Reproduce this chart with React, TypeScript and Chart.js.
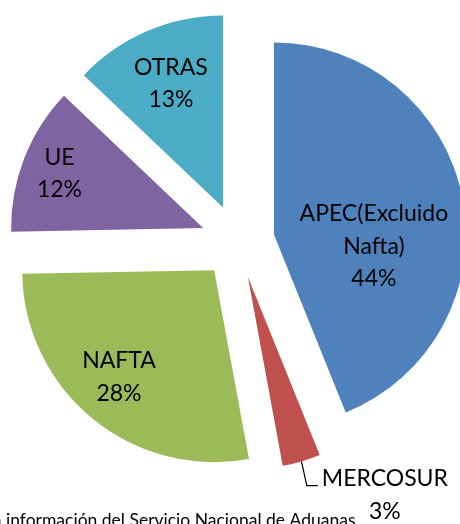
import React, { useEffect, useRef } from "react";
import { Chart, registerables } from "chart.js";

Chart.register(...registerables);

// ---- data ----
const categories = ["APEC(Excluido Nafta)", "MERCOSUR", "NAFTA", "UE", "OTRAS"];
const labelLines = [["APEC(Excluido", "Nafta)"], ["MERCOSUR"], ["NAFTA"], ["UE"], ["OTRAS"]];
const shares = [43.9, 3.2, 27.6, 12.4, 12.9];
const percentLabels = ["44%", "3%", "28%", "12%", "13%"];
const sourceNote = "Fuente: Elaboración propia con información del Servicio Nacional de Aduanas";

// ---- style ----
const colors = ["#4F81BD", "#C0504D", "#9BBB59", "#8064A2", "#4BACC6"];
const EXPLODE = 37;
const PIE_RADIUS = 192;
const LABEL_FONT = "23px Lato, 'Noto Sans', sans-serif";
const NOTE_FONT = "17.5px Lato, 'Noto Sans', sans-serif";
const CAP = 16.5;
const LINE_H = 32.5;
// label placement: fraction of radius along slice bisector, angle shift in degrees
const labelPlacement: any[] = [
  { r: 0.524, da: 17.3 },
  { outside: true, dx: 5.3, dy: 24.2, tail: 11 },
  { r: 0.742, da: 2.7 },
  { r: 0.802, da: -0.1 },
  { r: 0.705, da: 0.6 },
];

const explodePlugin = {
  id: "explode",
  afterDatasetsUpdate(chart: any) {
    const meta = chart.getDatasetMeta(0);
    meta.data.forEach((arc: any) => {
      const mid = (arc.startAngle + arc.endAngle) / 2;
      arc.x += Math.cos(mid) * EXPLODE;
      arc.y += Math.sin(mid) * EXPLODE;
    });
  },
};

const labelPlugin = {
  id: "sliceLabels",
  afterDatasetsDraw(chart: any) {
    const ctx = chart.ctx;
    const meta = chart.getDatasetMeta(0);
    ctx.save();
    ctx.fillStyle = "#000";
    ctx.font = LABEL_FONT;
    meta.data.forEach((arc: any, i: number) => {
      const p = labelPlacement[i];
      const lines = [...labelLines[i], percentLabels[i]];
      const mid = (arc.startAngle + arc.endAngle) / 2;
      if (p.outside) {
        const sx = arc.x + Math.cos(mid) * arc.outerRadius;
        const sy = arc.y + Math.sin(mid) * arc.outerRadius;
        const ex = sx + p.dx;
        const ey = sy + p.dy;
        ctx.strokeStyle = "#000";
        ctx.lineWidth = 1.2;
        ctx.beginPath();
        ctx.moveTo(sx, sy);
        ctx.lineTo(ex, ey);
        ctx.lineTo(ex + p.tail, ey);
        ctx.stroke();
        const left = ex + p.tail + 4;
        const w0 = ctx.measureText(lines[0]).width;
        const cx = left + w0 / 2;
        ctx.textAlign = "center";
        ctx.textBaseline = "alphabetic";
        lines.forEach((t: string, k: number) => {
          ctx.fillText(t, cx, ey + 0.5 + k * LINE_H);
        });
        return;
      }
      const ang = mid + (p.da * Math.PI) / 180;
      const cx = arc.x + Math.cos(ang) * arc.outerRadius * p.r;
      const cy = arc.y + Math.sin(ang) * arc.outerRadius * p.r;
      const span = CAP + (lines.length - 1) * LINE_H;
      const first = cy - span / 2 + CAP;
      ctx.textAlign = "center";
      ctx.textBaseline = "alphabetic";
      lines.forEach((t: string, k: number) => {
        ctx.fillText(t, cx, first + k * LINE_H);
      });
    });
    ctx.restore();
  },
};

const sourcePlugin = {
  id: "sourceNote",
  afterDraw(chart: any) {
    const ctx = chart.ctx;
    ctx.save();
    ctx.font = NOTE_FONT;
    ctx.fillStyle = "#000";
    ctx.textAlign = "right";
    ctx.textBaseline = "alphabetic";
    ctx.fillText(sourceNote, 355.5, 525.5);
    ctx.restore();
  },
};

export default function App() {
  const ref = useRef<HTMLCanvasElement>(null);
  useEffect(() => {
    const canvas = ref.current!;
    const chart = new Chart(canvas, {
      type: "pie",
      data: {
        labels: categories,
        datasets: [
          {
            data: shares,
            backgroundColor: colors,
            borderWidth: 0,
            hoverOffset: 0,
          },
        ],
      },
      options: {
        responsive: false,
        animation: false,
        radius: PIE_RADIUS,
        layout: { padding: { left: 15.2, right: 0, top: 0, bottom: 41 } },
        plugins: { legend: { display: false }, tooltip: { enabled: false } },
        events: [],
      } as any,
      plugins: [explodePlugin, labelPlugin, sourcePlugin],
    });
    return () => chart.destroy();
  }, []);
  return (
    <div style={{ position: "fixed", left: 0, top: 0, width: 460, height: 524, background: "#fff", overflow: "hidden" }}>
      <canvas ref={ref} width={460} height={524} style={{ display: "block", width: 460, height: 524 }} />
    </div>
  );
}
